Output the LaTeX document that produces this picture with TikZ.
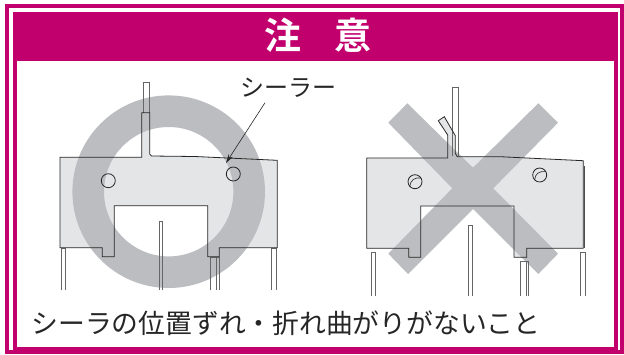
\documentclass[tikz,border=0pt]{standalone}
\usepackage{fontspec}
\usetikzlibrary{arrows.meta}
\setmainfont{Noto Sans CJK JP}
\newfontfamily\boldcjk{Noto Sans CJK JP Bold}
\definecolor{framered}{RGB}{193,0,110}
\definecolor{ringgray}{RGB}{187,189,192}
\definecolor{bodygray}{RGB}{228,229,231}
\tikzset{
  bodyline/.style={draw=black!85, line width=0.8pt, line join=miter},
  pinline/.style={draw=black!60, line width=1pt},
  hole/.style={draw=black!85, line width=0.8pt, circle, minimum size=14pt, inner sep=0pt},
  holemark/.style={draw=black!85, line width=0.6pt}
}
% outlines of the two switches
\def\leftbody{(60,157.3) -- (141.7,157.3) -- (141.7,112.7) -- (149.7,112.7) -- (149.7,154) -- (151.5,156)
  -- (195,156.5) -- (277.3,160.3) -- (277.3,247.7) -- (219.3,247.7) -- (219.3,256.7) -- (207.7,256.7)
  -- (207.7,205.7) -- (114.3,205.7) -- (114.3,256.7) -- (102.3,256.7) -- (102.3,247.7) -- (60,247.7) -- cycle}
\def\rightbody{(366.7,158) -- (447.7,158) -- (447.7,135) -- (438.3,120.7) -- (444.3,116.7) -- (455.3,135.7)
  -- (455.3,153.3) -- (457.3,156.7) -- (500,156.7) -- (583.3,160.7) -- (583.3,248.3) -- (526.7,248.3)
  -- (526.7,257.3) -- (514,257.3) -- (514,206) -- (420.7,206) -- (420.7,257.3) -- (408.7,257.3)
  -- (408.7,248.3) -- (366.7,248.3) -- cycle}
\begin{document}
\begin{tikzpicture}[x=1pt,y=-1pt]
  \useasboundingbox (0,0) rectangle (624,354);
  % frame
  \draw[framered, line width=3.8pt] (7,6.3) rectangle (622,352);
  \fill[framered] (12.7,12) rectangle (618.3,351);
  \fill[white] (17,60.8) rectangle (614,347);
  \node[text=white, font=\boldcjk\fontsize{37}{37}\selectfont] (title) at (318,35) {注\hspace{0.9em}意};
  % left switch
  \fill[bodygray] \leftbody;
  \fill[ringgray, even odd rule] (168.7,191.7) circle [radius=96.3] (168.7,191.7) circle [radius=64.7];
  \draw[pinline] (143,112.7) -- (143,82.7) -- (149,82.7) -- (149,112.7);
  \foreach \xa/\xb/\ya in {61.3/65.3/248, 159/162.7/221, 210.3/216.7/257, 216.7/219.3/257, 271.3/276/248}
    \draw[pinline] (\xa,290) -- (\xa,\ya) -- (\xb,\ya) -- (\xb,290);
  \draw[bodyline] \leftbody;
  \node[hole] (holeA) at (108.3,180.7) {};
  \node[hole] (holeB) at (233.3,174) {};
  \node[font=\fontsize{24}{24}\selectfont, text=black!85] (sealer) at (288.5,88) {シーラー};
  \coordinate (sealerstart) at (265,102.7);
  \coordinate (sealertip) at (226,163);
  \draw[black!85, line width=0.6pt, -{Stealth[length=9pt,width=5pt]}] (sealerstart) -- (sealertip);
  % right switch
  \fill[bodygray] \rightbody;
  \fill[ringgray] (407.3,103.3) -- (473,167.7) -- (538.3,103.3) -- (558,122.7) -- (493.3,188.3) -- (558,253.7)
    -- (538.3,274) -- (473,209) -- (408,274) -- (388.3,253.7) -- (452.3,188.3) -- (388.3,122.7) -- cycle;
  \draw[pinline] (452.7,156) -- (452.7,87.3) -- (458.3,87.3) -- (458.3,156);
  \foreach \xa/\xb/\ya in {371/375.3/252.5, 468.7/472.7/225.7, 520/526.7/261.7, 526.7/528.3/261.7, 580.7/585.7/252.5}
    \draw[pinline] (\xa,295.5) -- (\xa,\ya) -- (\xb,\ya) -- (\xb,295.5);
  \draw[bodyline] \rightbody;
  \draw[draw=black!70, line width=1.2pt] (584.6,166) -- (584.6,248);
  \node[hole] (holeC) at (415,181.7) {};
  \node[hole] (holeD) at (539.7,175) {};
  \draw[holemark] (410,187) .. controls (410,180) and (415,177) .. (421,178);
  \draw[holemark] (534.7,180) .. controls (534.7,174) and (539,171) .. (545.5,171.5);
  % caption
  \node[font=\fontsize{26.8}{26.8}\selectfont, text=black!85] (caption) at (286,323.5) {シーラの位置ずれ・折れ曲がりがないこと};
\end{tikzpicture}
\end{document}
